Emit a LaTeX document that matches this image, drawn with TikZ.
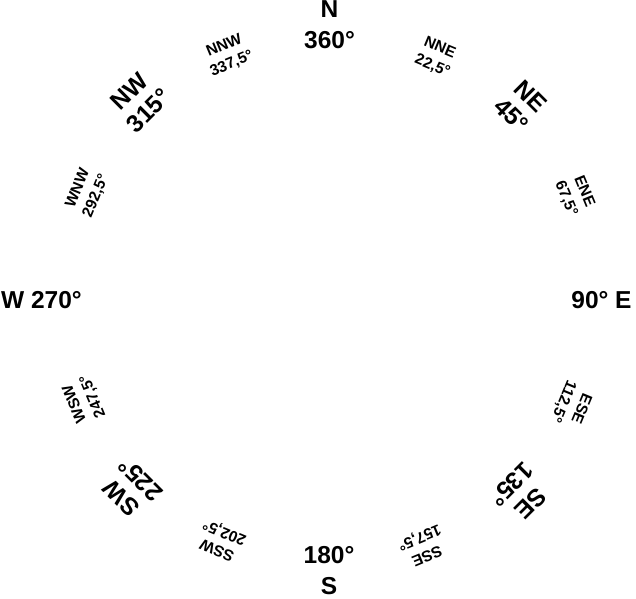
\documentclass[tikz,border=0pt]{standalone}
\usepackage{fontspec}
\setmainfont{Liberation Sans}
\begin{document}
\begin{tikzpicture}[x=1pt,y=1pt,
  major/.style={inner sep=0pt,align=center,font=\bfseries\fontsize{24.5}{31}\selectfont},
  diag/.style={major,font=\bfseries\fontsize{24.5}{27}\selectfont},
  minor/.style={inner sep=0pt,align=center,font=\bfseries\fontsize{15.5}{19.5}\selectfont}]
\useasboundingbox (0,0) rectangle (636,598);
% major labels
\node[major] (n)  at (329.5,573) {N\\360°};
\node[major] (s)  at (329,27)    {180°\\S};
\node[major] (e)  at (601.5,298) {90° E};
\node[major] (w)  at (41.5,298)  {W 270°};
\node[diag,rotate=-45]  (ne) at (521,492) {NE\\45°};
\node[diag,rotate=45]   (nw) at (139,497) {NW\\315°};
\node[diag,rotate=-135] (se) at (521,104) {SE\\135°};
\node[diag,rotate=135]  (sw) at (131,109) {SW\\225°};
% minor labels
\node[minor,rotate=-22.5]  (nne) at (436,541) {NNE\\22,5°};
\node[minor,rotate=-67.5]  (ene) at (575,403) {ENE\\67,5°};
\node[minor,rotate=-112.5] (ese) at (572,193) {ESE\\112,5°};
\node[minor,rotate=-157.5] (sse) at (423,52)  {SSE\\157,5°};
\node[minor,rotate=-202.5] (ssw) at (221,57)  {SSW\\202,5°};
\node[minor,rotate=-247.5] (wsw) at (84,198)  {WSW\\247,5°};
\node[minor,rotate=67.5]   (wnw) at (87,406)  {WNW\\292,5°};
\node[minor,rotate=22.5]   (nnw) at (228,543) {NNW\\337,5°};
\end{tikzpicture}
\end{document}
